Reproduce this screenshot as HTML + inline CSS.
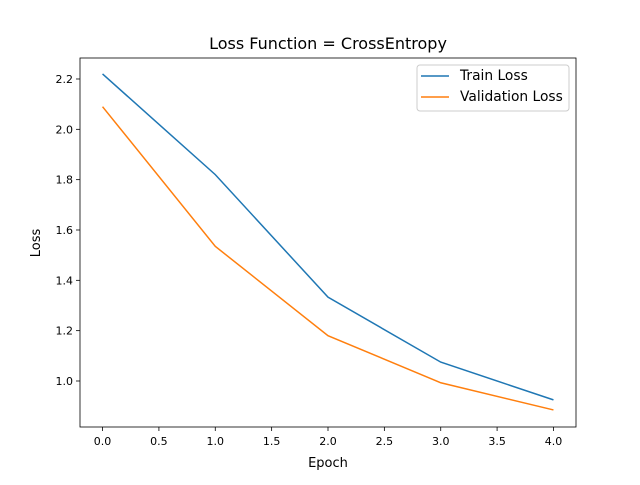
<!DOCTYPE html>
<html><head><meta charset="utf-8"><style>
body{margin:0;background:#fff;}
svg text{font-family:"DejaVu Sans","Liberation Sans",sans-serif;fill:#000;}
</style></head><body>
<svg id="chart" width="640" height="480" xmlns="http://www.w3.org/2000/svg">
<rect width="640" height="480" fill="#fff"/>
<text x="328" y="49" font-size="16" text-anchor="middle">Loss Function = CrossEntropy</text>
<g id="plot"></g>
<text x="328" y="467" font-size="13" text-anchor="middle">Epoch</text>
<text x="40" y="243" font-size="13" text-anchor="middle" transform="rotate(-90 40 243)">Loss</text>
</svg>
<script>
const epochs=[0,1,2,3,4];
const trainLoss=[2.22,1.82,1.333,1.075,0.925];
const valLoss=[2.09,1.535,1.18,0.993,0.885];
const xTicks=[0,0.5,1,1.5,2,2.5,3,3.5,4];
const yTicks=[1.0,1.2,1.4,1.6,1.8,2.0,2.2];
const L=80,R=576,T=58,B=427;
const xMin=-0.2,xMax=4.2,yMin=0.8172,yMax=2.2834;
const xs=v=>L+(v-xMin)/(xMax-xMin)*(R-L);
const ys=v=>B-(v-yMin)/(yMax-yMin)*(B-T);
const NS="http://www.w3.org/2000/svg";
const g=document.getElementById('plot');
function el(t,a){const e=document.createElementNS(NS,t);for(const k in a)e.setAttribute(k,a[k]);g.appendChild(e);return e;}
xTicks.forEach(v=>{
 const x=xs(v);
 const t=el('line',{x1:x,x2:x,y1:B,y2:B+4,stroke:'#000','stroke-width':0.8});
 
 
 const l=el('text',{x:x,y:B+18,'font-size':11,'text-anchor':'middle'});l.textContent=v.toFixed(1);
 
 
});
yTicks.forEach(v=>{
 const y=ys(v);
 const t=el('line',{x1:L-4,x2:L,y1:y,y2:y,stroke:'#000','stroke-width':0.8});
 
 
 const l=el('text',{x:L-7,y:y+4,'font-size':11,'text-anchor':'end'});l.textContent=v.toFixed(1);
 
 
});
function series(d,c,n){
 const p=el('polyline',{points:epochs.map((e,i)=>xs(e)+','+ys(d[i])).join(' '),fill:'none',stroke:c,'stroke-width':1.5});
 
 
}
series(trainLoss,'#1f77b4','train-loss-line');
series(valLoss,'#ff7f0e','validation-loss-line');
const f=el('rect',{x:L,y:T,width:R-L,height:B-T,fill:'none',stroke:'#000','stroke-width':0.8});


const lg=el('rect',{x:417,y:65,width:152,height:46,rx:3,fill:'#fff',stroke:'#ccc','stroke-width':1});


[['Train Loss','#1f77b4',76],['Validation Loss','#ff7f0e',97]].forEach(([n,c,y])=>{
 const l=el('line',{x1:421,x2:449,y1:y,y2:y,stroke:c,'stroke-width':1.5});
 
 
 const t=el('text',{x:460,y:y+4,'font-size':13.8});t.textContent=n;
 
 
});
</script>
</body></html>
